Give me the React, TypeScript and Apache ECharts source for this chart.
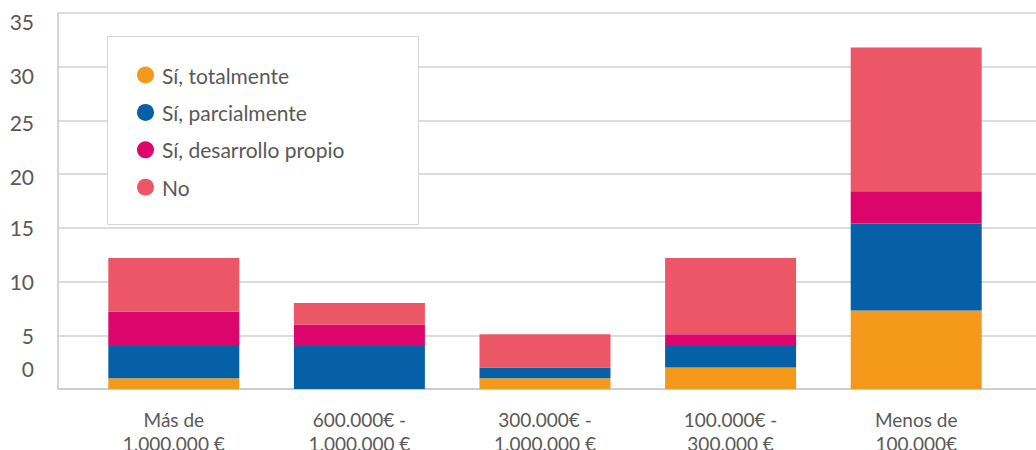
import React, { useEffect, useRef } from "react";
import * as echarts from "echarts";

const categories = [
  "Más de\n1.000.000 €",
  "600.000€ -\n1.000.000 €",
  "300.000€ -\n1.000.000 €",
  "100.000€ -\n300.000 €",
  "Menos de\n100.000€",
];
const seriesNames = ["Sí, totalmente", "Sí, parcialmente", "Sí, desarrollo propio", "No"];
const totalmente = [1, 0, 1, 2, 7.3];
const parcialmente = [3, 4, 1, 2, 8.1];
const desarrolloPropio = [3.2, 2, 0, 1.1, 3];
const no = [5, 2, 3.1, 7.1, 13.4];
const colors = ["#F4991A", "#0660A7", "#DC056B", "#EB5766"];

export default function App() {
  const ref = useRef<HTMLDivElement>(null);
  useEffect(() => {
    if (!ref.current) return;
    const chart = echarts.init(ref.current, undefined, { renderer: "svg" });
    const font = "Lato, 'Open Sans', sans-serif";
    const textColor = "#595959";
    const values = [totalmente, parcialmente, desarrolloPropio, no];
    const labelShift: Record<number, string> = {
      0: "u", 5: "n", 10: "n", 15: "n", 20: "d", 25: "d", 30: "dd", 35: "dd",
    };
    chart.setOption({
      animation: false,
      color: colors,
      grid: [
        { left: 58, right: 0, top: 13, height: 376, outerBoundsMode: "none", containLabel: false },
        { left: 81, width: 928, top: 13, height: 376, outerBoundsMode: "none", containLabel: false },
      ],
      legend: {
        orient: "vertical",
        left: 137,
        top: 64.5,
        itemWidth: 17,
        itemHeight: 17,
        itemGap: 16.4,
        icon: "circle",
        padding: 0,
        data: seriesNames,
        textStyle: { fontSize: 21, color: textColor, fontFamily: font, padding: [0, 0, 0, 3] },
      },
      graphic: [
        {
          type: "rect",
          z: 3,
          shape: { x: 107.5, y: 36.5, width: 311, height: 188 },
          style: { fill: "#ffffff", stroke: "#d6d6d6", lineWidth: 1 },
        },
      ],
      xAxis: [
        {
          gridIndex: 0,
          type: "category",
          data: [""],
          axisLine: { show: true, lineStyle: { color: "#c8c8c8", width: 1.5 } },
          axisTick: { show: false },
          axisLabel: { show: false },
        },
        {
          gridIndex: 1,
          type: "category",
          data: categories,
          axisLine: { show: false },
          axisTick: { show: false },
          axisLabel: {
            margin: 18,
            fontSize: 19,
            lineHeight: 24,
            color: textColor,
            fontFamily: font,
            interval: 0,
          },
        },
      ],
      yAxis: [
        {
          gridIndex: 0,
          type: "value",
          min: 0,
          max: 35,
          interval: 5,
          axisLine: { show: true, lineStyle: { color: "#c8c8c8", width: 1.5 } },
          axisTick: { show: false },
          splitLine: { show: true, lineStyle: { color: "#d0d0d0", width: 1.5 } },
          axisLabel: {
            margin: 24,
            formatter: (v: number) => `{${labelShift[v] || "n"}|${v}}`,
            rich: {
              n: { fontSize: 21, color: textColor, fontFamily: font },
              d: { fontSize: 21, color: textColor, fontFamily: font, padding: [4, 0, 0, 0] },
              dd: { fontSize: 21, color: textColor, fontFamily: font, padding: [17, 0, 0, 0] },
              u: { fontSize: 21, color: textColor, fontFamily: font, padding: [0, 0, 42, 0] },
            },
          },
        },
        {
          gridIndex: 1,
          type: "value",
          min: 0,
          max: 35,
          interval: 5,
          show: false,
          splitLine: { show: false },
        },
      ],
      series: seriesNames.map((name, i) => ({
        name,
        type: "bar",
        stack: "total",
        xAxisIndex: 1,
        yAxisIndex: 1,
        barWidth: 131,
        data: values[i],
        itemStyle: { color: colors[i] },
      })),
    });
    return () => chart.dispose();
  }, []);
  return (
    <div
      ref={ref}
      style={{ position: "fixed", left: 0, top: 0, width: 1036, height: 450, background: "#fff" }}
    />
  );
}
